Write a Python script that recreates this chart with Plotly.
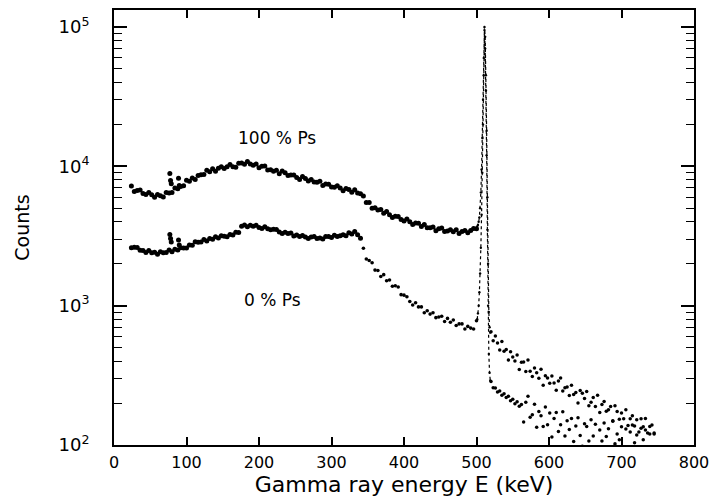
import plotly.graph_objects as go

# Channel energies (keV) of the continuum part, 4 keV bins
energy_main = list(range(24, 501, 4))

counts_100ps_main = [
    7240, 6600, 6720, 6750, 6390, 6270, 6490, 6250, 6010, 6270,
    6160, 6030, 6490, 6440, 6500, 6990, 6900, 7170, 7250, 7930,
    7820, 8260, 8050, 8590, 8700, 8720, 9370, 9160, 9590, 9220,
    9700, 9950, 9650, 9950, 10300, 9950, 9850, 10510, 10560, 10340,
    10820, 10400, 10200, 10400, 9750, 10000, 10040, 9410, 9450, 9210,
    9380, 8830, 9270, 8990, 8580, 8650, 8670, 8320, 8050, 8450,
    8180, 7840, 8060, 7720, 7700, 7830, 7280, 7470, 7450, 7110,
    7080, 7260, 7000, 6690, 6940, 6820, 6520, 6800, 6440, 6350,
    6120, 5490, 5510, 5000, 5050, 4850, 4900, 4610, 4740, 4500,
    4290, 4390, 4360, 4160, 4050, 4180, 4000, 3820, 3920, 3910,
    3700, 3830, 3630, 3630, 3670, 3450, 3570, 3610, 3410, 3430,
    3510, 3390, 3500, 3300, 3400, 3470, 3340, 3460, 3580, 3560,
]

counts_0ps_main = [
    2600, 2630, 2610, 2500, 2490, 2410, 2490, 2400, 2420, 2340,
    2440, 2400, 2410, 2510, 2440, 2540, 2510, 2600, 2590, 2590,
    2730, 2710, 2870, 2850, 2860, 2990, 2910, 3030, 3000, 3120,
    3060, 3180, 3150, 3120, 3240, 3220, 3370, 3350, 3720, 3790,
    3680, 3780, 3720, 3770, 3640, 3580, 3680, 3570, 3500, 3530,
    3520, 3380, 3300, 3360, 3290, 3320, 3160, 3220, 3130, 3190,
    3110, 3030, 3110, 3130, 3030, 3060, 3010, 3140, 3130, 3090,
    3200, 3130, 3180, 3230, 3170, 3330, 3270, 3400, 3230, 3050,
    2580, 2160, 2110, 2030, 1800, 1790, 1620, 1670, 1510, 1530,
    1380, 1390, 1360, 1200, 1190, 1160, 1070, 1010, 1050, 980,
    980, 890, 920, 870, 890, 820, 830, 840, 770, 810,
    760, 790, 720, 740, 740, 680, 710, 690, 680, 780,
]

# Lead X-ray lines near 75-90 keV
xray_energy = [77, 78, 79, 89, 90]
xray_100ps = [8900, 7900, 7500, 8200, 7300]
xray_0ps = [3240, 3030, 2860, 2960, 2720]

# 511 keV annihilation line, 1 keV bins
peak_energy = list(range(501, 520))
peak_100ps = [3700, 3800, 4000, 4300, 5000, 6500, 9500, 16000, 30000, 60000,
              100000, 85000, 45000, 18000, 6000, 2000, 900, 700, 640]
peak_0ps = [800, 880, 1000, 1250, 1700, 2600, 4500, 9000, 20000, 45000,
            95000, 70000, 35000, 12000, 3500, 1000, 450, 330, 290]

# Region above the annihilation line, 3 keV bins
tail_energy = list(range(520, 746, 3))
tail_100ps = [
    650, 560, 605, 540, 480, 554, 470, 484, 407, 466,
    428, 400, 443, 348, 393, 394, 337, 407, 339, 310,
    357, 330, 301, 349, 268, 314, 303, 277, 313, 279,
    247, 288, 302, 244, 258, 261, 227, 268, 230, 238,
    200, 246, 235, 216, 242, 191, 203, 219, 189, 228,
    171, 195, 205, 175, 179, 189, 149, 191, 174, 153,
    170, 154, 179, 138, 154, 162, 137, 152, 124, 154,
    135, 155, 122, 136, 139, 120,
]
tail_0ps = [
    285, 258, 256, 240, 244, 228, 233, 219, 224, 208,
    213, 198, 204, 190, 195, 146, 203, 224, 158, 165,
    196, 134, 174, 162, 136, 187, 140, 170, 114, 155,
    171, 125, 140, 173, 116, 149, 129, 155, 106, 137,
    157, 117, 98, 142, 136, 107, 152, 116, 141, 95,
    128, 107, 144, 115, 131, 96, 148, 102, 120, 109,
    135, 96, 130, 86, 124, 139, 104, 118, 90, 132,
    109, 128, 96, 120, 92, 122,
]

x_ticks = [0, 100, 200, 300, 400, 500, 600, 700, 800]
y_decades = [2, 3, 4, 5]

FONT = "DejaVu Sans"
INK = "black"
COMPTON_EDGE_KEV = 340

fig = go.Figure()

for c_main, c_x, c_pk, c_tail, thin_above_edge in [
    (counts_100ps_main, xray_100ps, peak_100ps, tail_100ps, False),
    (counts_0ps_main, xray_0ps, peak_0ps, tail_0ps, True),
]:
    e_all = energy_main + xray_energy
    # the steep fall beyond the Compton edge prints as finer dots
    sizes = [3.6 if (thin_above_edge and e > COMPTON_EDGE_KEV) else 5
             for e in e_all]
    # continuum channels
    fig.add_trace(go.Scatter(
        x=e_all, y=c_main + c_x, mode="markers",
        marker=dict(color=INK, size=sizes, opacity=1, line=dict(width=0)),
        showlegend=False, hoverinfo="skip"))
    # annihilation line, drawn as a dotted trace through the channels
    fig.add_trace(go.Scatter(
        x=peak_energy, y=c_pk, mode="lines+markers",
        line=dict(color=INK, width=1.2, dash="dot"),
        marker=dict(color=INK, size=2.4, opacity=1),
        showlegend=False, hoverinfo="skip"))
    # sparse high-energy channels
    fig.add_trace(go.Scatter(
        x=tail_energy, y=c_tail, mode="markers",
        marker=dict(color=INK, size=3.5, opacity=1, line=dict(width=0)),
        showlegend=False, hoverinfo="skip"))

fig.add_annotation(x=225, y=4.203, xref="x", yref="y", text="100 % Ps",
                   showarrow=False, font=dict(family=FONT, size=17, color=INK))
fig.add_annotation(x=218, y=3.04, xref="x", yref="y", text="0 % Ps",
                   showarrow=False, font=dict(family=FONT, size=17, color=INK))

minor_vals = [m * 10 ** d for d in y_decades for m in range(2, 10)]

fig.update_xaxes(
    range=[0, 800], tickvals=x_ticks, ticktext=[str(v) for v in x_ticks],
    ticks="inside", ticklen=8, tickwidth=1.5, tickcolor=INK,
    showline=True, linewidth=2, linecolor=INK, mirror="allticks",
    showgrid=False, zeroline=False,
    tickfont=dict(family=FONT, size=16, color=INK), ticklabelstandoff=2,
    title=dict(text="Gamma ray energy E (keV)",
               font=dict(family=FONT, size=22, color=INK), standoff=3),
)
fig.update_yaxes(
    type="log", range=[2, 5.122],
    tickvals=[10 ** d for d in y_decades],
    ticktext=[f"10<sup>{d}</sup>" for d in y_decades],
    ticks="inside", ticklen=13, tickwidth=1.5, tickcolor=INK,
    minor=dict(tickvals=minor_vals, ticks="inside", ticklen=8,
               tickwidth=1.2, tickcolor=INK, showgrid=False),
    showline=True, linewidth=2, linecolor=INK, mirror="allticks",
    showgrid=False, zeroline=False,
    tickfont=dict(family=FONT, size=18, color=INK), ticklabelstandoff=19,
    title=dict(text="Counts", font=dict(family=FONT, size=19, color=INK),
               standoff=24),
)

fig.update_layout(
    width=713, height=499,
    margin=dict(l=114, r=19, t=10, b=54, autoexpand=False),
    paper_bgcolor="white", plot_bgcolor="white",
)

fig.write_html("out.html")
